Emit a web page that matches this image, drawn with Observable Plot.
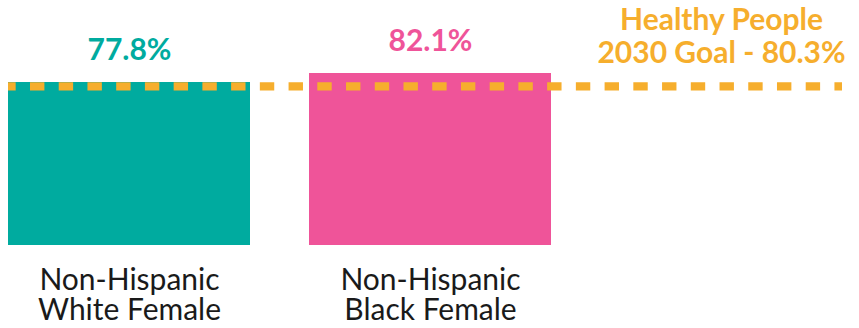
<!DOCTYPE html>
<html><head><meta charset="utf-8">
<script src="https://cdn.jsdelivr.net/npm/d3@7"></script>
<script src="https://cdn.jsdelivr.net/npm/@observablehq/plot@0.6"></script>
<style>body{margin:0;background:#fff}</style>
</head><body><div id="chart"></div>
<script>
const groups = ["Non-Hispanic\nWhite Female", "Non-Hispanic\nBlack Female"];
const values = [77.8, 82.1];
const colors = ["#00ab9f", "#ef5499"];
const goalValue = 80.3;
const goalLabel = "Healthy People\n2030 Goal - 80.3%";
const goalSlot = "goal";
const goalColor = "#f6ae2d";

const data = groups.map((g, i) => ({group: g, value: values[i], color: colors[i]}));

const chart = Plot.plot({
  width: 859, height: 328,
  marginLeft: 8, marginRight: 17, marginTop: 0, marginBottom: 83,
  style: {fontFamily: "Lato, sans-serif", background: "#fff"},
  x: {type: "band", domain: [...groups, goalSlot], range: [8, 855], paddingInner: 0.195, paddingOuter: 0, align: 0, axis: null},
  y: {domain: [0, 100], range: [245, 35.5], axis: null},
  color: {type: "identity"},
  marks: [
    Plot.barY(data, {x: "group", y: "value", fill: "color"}),
    Plot.ruleY([goalValue], {stroke: goalColor, strokeWidth: 8.3, strokeDasharray: "14.4,14.33", strokeDashoffset: 6.73, dy: 9.2}),
    Plot.text(data, {x: "group", y: "value", text: d => d.value.toFixed(1) + "%", fill: "color", lineAnchor: "bottom", dy: -22.5, fontSize: 30, fontWeight: 700}),
    Plot.text(data, {x: "group", y: () => 0, text: "group", fill: "#1a1a1a", lineAnchor: "top", dy: 23, fontSize: 30, lineHeight: 1.0}),
    Plot.text([goalLabel], {x: () => goalSlot, y: () => goalValue, text: d => d, fill: goalColor, lineAnchor: "bottom", dx: -10, dy: -13.8, fontSize: 30, fontWeight: 700, lineHeight: 1.13})
  ]
});
document.getElementById("chart").appendChild(chart);
</script>
</body></html>
